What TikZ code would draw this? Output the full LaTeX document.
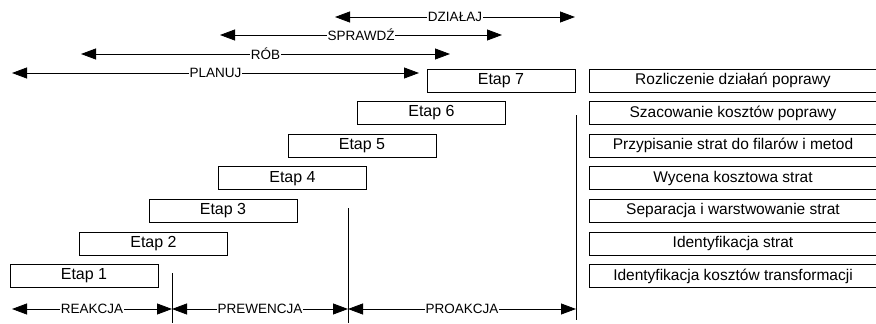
\documentclass[tikz,border=0pt]{standalone}
\usepackage{fontspec}
\setmainfont{Liberation Sans}
\usetikzlibrary{arrows.meta}

\tikzset{
  etapbox/.style={draw,line width=0.8pt,minimum width=148pt,minimum height=23pt,inner sep=0pt,font=\fontsize{16}{18}\selectfont},
  krokbox/.style={draw,line width=0.8pt,minimum width=288pt,minimum height=23pt,inner sep=0pt,font=\fontsize{15.5}{18}\selectfont},
  zakres/.style={line width=0.8pt,{Triangle[length=15pt,width=11pt]}-{Triangle[length=15pt,width=11pt]}},
  etykieta/.style={fill=white,inner sep=0.6pt,font=\fontsize{13.5}{15}\selectfont}
}

\begin{document}
\begin{tikzpicture}[x=1pt,y=-1pt]
  \useasboundingbox (0,0) rectangle (876,324);

  % etapy i opisy
  \foreach \i/\opis in {1/Identyfikacja kosztów transformacji,
                        2/Identyfikacja strat,
                        3/Separacja i warstwowanie strat,
                        4/Wycena kosztowa strat,
                        5/Przypisanie strat do filarów i metod,
                        6/Szacowanie kosztów poprawy,
                        7/Rozliczenie działań poprawy}{
    \node[etapbox] (etap\i) at ({84+(\i-1)*69.5},{276-(\i-1)*32.6}) {Etap \i};
    \node[krokbox] (opis\i) at (733,{276-(\i-1)*32.6}) {\opis};
  }

  % linie podzialu
  \coordinate (g1) at (172,273);  \coordinate (d1) at (172,323);
  \coordinate (g2) at (348,208);  \coordinate (d2) at (348,323);
  \coordinate (g3) at (576,115);  \coordinate (d3) at (576,320);
  \coordinate (d0) at (12,309);
  \draw[line width=0.8pt] (g1) -- (d1);
  \draw[line width=0.8pt] (g2) -- (d2);
  \draw[line width=0.8pt] (g3) -- (d3);

  % dolne zakresy
  \draw[zakres] (d0) -- node[etykieta]{REAKCJA} (d0 -| g1);
  \draw[zakres] (d0 -| g1) -- node[etykieta]{PREWENCJA} (d0 -| g2);
  \draw[zakres] (d0 -| g2) -- node[etykieta]{PROAKCJA} (d0 -| g3);

  % gorne zakresy
  \coordinate (dz1) at (335,17);  \coordinate (dz2) at (575,17);
  \coordinate (sp1) at (220,35);  \coordinate (sp2) at (502,35);
  \coordinate (ro1) at (81,54);   \coordinate (ro2) at (450,54);
  \coordinate (pl1) at (12,73);   \coordinate (pl2) at (419,73);
  \draw[zakres] (dz1) -- node[etykieta]{DZIAŁAJ} (dz2);
  \draw[zakres] (sp1) -- node[etykieta]{SPRAWDŹ} (sp2);
  \draw[zakres] (ro1) -- node[etykieta]{RÓB} (ro2);
  \draw[zakres] (pl1) -- node[etykieta]{PLANUJ} (pl2);
\end{tikzpicture}
\end{document}
